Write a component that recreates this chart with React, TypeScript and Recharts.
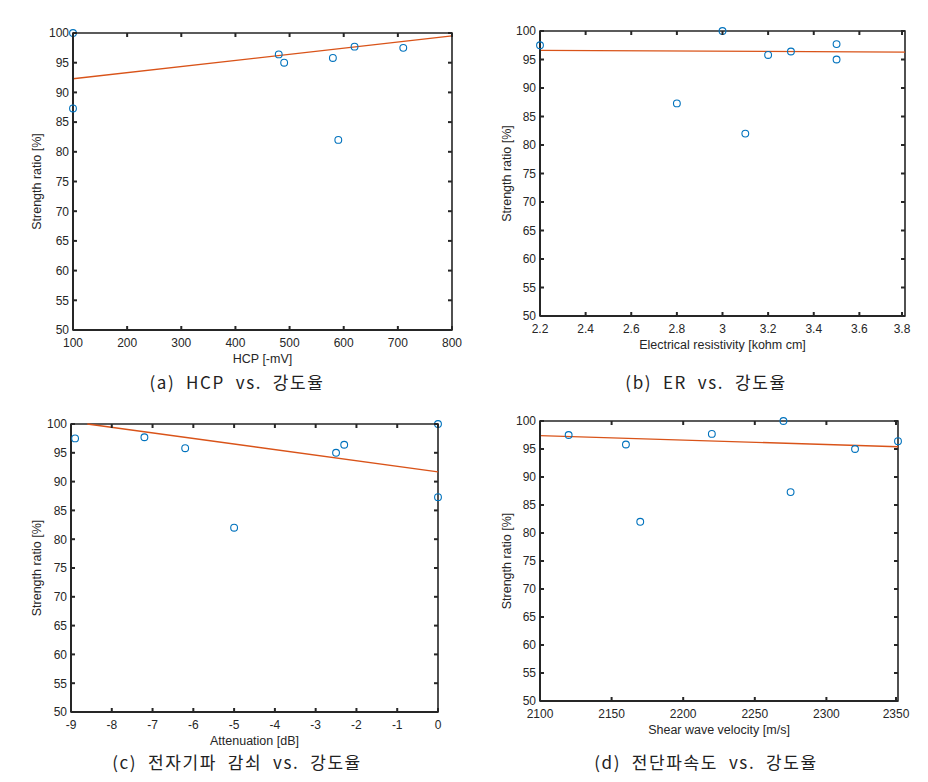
import { ComposedChart, Scatter, Line, XAxis, YAxis, ReferenceArea } from 'recharts';

const hcpPoints = [
  { x: 100, y: 100 }, { x: 100, y: 87.3 }, { x: 480, y: 96.4 }, { x: 490, y: 95 },
  { x: 580, y: 95.8 }, { x: 590, y: 82 }, { x: 620, y: 97.7 }, { x: 710, y: 97.5 },
];
const hcpTrend = [{ x: 100, y: 92.3 }, { x: 800, y: 99.5 }];
const hcpTicks = [100, 200, 300, 400, 500, 600, 700, 800];

const erPoints = [
  { x: 2.2, y: 97.5 }, { x: 2.8, y: 87.3 }, { x: 3.0, y: 100 }, { x: 3.1, y: 82 },
  { x: 3.2, y: 95.8 }, { x: 3.3, y: 96.4 }, { x: 3.5, y: 97.7 }, { x: 3.5, y: 95 },
];
const erTrend = [{ x: 2.2, y: 96.6 }, { x: 3.8, y: 96.3 }];
const erTicks = [2.2, 2.4, 2.6, 2.8, 3, 3.2, 3.4, 3.6, 3.8];

const attPoints = [
  { x: -8.9, y: 97.5 }, { x: -7.2, y: 97.7 }, { x: -6.2, y: 95.8 }, { x: -5, y: 82 },
  { x: -2.5, y: 95 }, { x: -2.3, y: 96.4 }, { x: 0, y: 100 }, { x: 0, y: 87.3 },
];
const attTrend = [{ x: -8.6, y: 100 }, { x: 0, y: 91.7 }];
const attTicks = [-9, -8, -7, -6, -5, -4, -3, -2, -1, 0];

const vsPoints = [
  { x: 2120, y: 97.5 }, { x: 2160, y: 95.8 }, { x: 2170, y: 82 }, { x: 2220, y: 97.7 },
  { x: 2270, y: 100 }, { x: 2275, y: 87.3 }, { x: 2320, y: 95 }, { x: 2350, y: 96.4 },
];
const vsTrend = [{ x: 2100, y: 97.4 }, { x: 2350, y: 95.4 }];
const vsTicks = [2100, 2150, 2200, 2250, 2300, 2350];

const strengthTicks = [50, 55, 60, 65, 70, 75, 80, 85, 90, 95, 100];

const INK = '#262626';
const BLUE = '#0072BD';
const ORANGE = '#D95319';
const Y_AXIS_W = 66;
const X_AXIS_H = 45;
const TOP = 10;
const TICK = 4;

// bottom axis tick: inward mark at the bottom, matching mark on the top edge, label below
function makeBottomTick(plotH: number) {
  return function BottomTick({ x, y, payload }: any) {
    return (
      <g>
        <line x1={x} y1={y} x2={x} y2={y - TICK} stroke={INK} strokeWidth={2} />
        <line x1={x} y1={y - plotH} x2={x} y2={y - plotH + TICK} stroke={INK} strokeWidth={2} />
        <text x={x} y={y + 16.5} textAnchor="middle" fontSize={12} fill={INK}>
          {String(payload.value)}
        </text>
      </g>
    );
  };
}

// left axis tick: inward mark on the left, matching mark on the right edge, label left
function makeLeftTick(plotW: number) {
  return function LeftTick({ x, y, payload }: any) {
    return (
      <g>
        <line x1={x} y1={y} x2={x + TICK} y2={y} stroke={INK} strokeWidth={2} />
        <line x1={x + plotW} y1={y} x2={x + plotW - TICK} y2={y} stroke={INK} strokeWidth={2} />
        <text x={x - 4} y={y + 4.3} textAnchor="end" fontSize={12} fill={INK}>
          {String(payload.value)}
        </text>
      </g>
    );
  };
}

function Ring(props: any) {
  return <circle cx={props.cx} cy={props.cy} r={3.4} fill="none" stroke={BLUE} strokeWidth={1.1} />;
}

interface PanelProps {
  points: { x: number; y: number }[];
  trend: { x: number; y: number }[];
  xTicks: number[];
  xLabel: string;
  plot: { x: number; y: number; w: number; h: number };
  right: number;
  yLabelDx: number;
}

function Panel({ points, trend, xTicks, xLabel, plot, right, yLabelDx }: PanelProps) {
  const domain: [number, number] = [xTicks[0], xTicks[xTicks.length - 1]];
  const width = Y_AXIS_W + plot.w + right;
  const height = TOP + plot.h + X_AXIS_H;
  const BottomTick = makeBottomTick(plot.h);
  const LeftTick = makeLeftTick(plot.w);
  return (
    <div style={{ position: 'absolute', left: plot.x - Y_AXIS_W, top: plot.y - TOP }}>
      <ComposedChart width={width} height={height} margin={{ top: TOP, right, bottom: 0, left: 0 }}>
        <XAxis
          dataKey="x"
          type="number"
          domain={domain}
          ticks={xTicks}
          height={X_AXIS_H}
          tickSize={0}
          tickMargin={0}
          tickLine={false}
          tick={<BottomTick />}
          axisLine={{ stroke: INK, strokeWidth: 2 }}
          label={{ value: xLabel, position: 'insideTop', offset: 24, fontSize: 12.5, fill: INK }}
        />
        <YAxis
          dataKey="y"
          type="number"
          domain={[50, 100]}
          ticks={strengthTicks}
          width={Y_AXIS_W}
          tickSize={0}
          tickMargin={0}
          tickLine={false}
          tick={<LeftTick />}
          axisLine={{ stroke: INK, strokeWidth: 2 }}
          label={{
            value: 'Strength ratio [%]',
            angle: -90,
            position: 'center',
            dx: yLabelDx,
            fontSize: 12.5,
            fill: INK,
          }}
        />
        <ReferenceArea
          x1={domain[0]}
          x2={domain[1]}
          y1={50}
          y2={100}
          fill="none"
          fillOpacity={0}
          stroke={INK}
          strokeWidth={1.6}
          strokeOpacity={1}
        />
        <Line
          data={trend}
          dataKey="y"
          type="linear"
          stroke={ORANGE}
          strokeWidth={1.3}
          dot={false}
          isAnimationActive={false}
        />
        <Scatter data={points} dataKey="y" shape={<Ring />} isAnimationActive={false} />
      </ComposedChart>
    </div>
  );
}

const captionStyle: React.CSSProperties = {
  position: 'absolute',
  transform: 'translateX(-50%)',
  whiteSpace: 'pre',
  fontFamily: '"Noto Sans CJK KR", sans-serif',
  fontSize: 17,
  letterSpacing: 1.6,
  color: '#222',
  lineHeight: '20px',
};

export default function App() {
  return (
    <div
      style={{
        position: 'absolute',
        left: 0,
        top: 0,
        width: 928,
        height: 782,
        background: '#fff',
        overflow: 'hidden',
        fontFamily: '"Liberation Sans", Arial, sans-serif',
      }}
    >
      <Panel
        points={hcpPoints}
        trend={hcpTrend}
        xTicks={hcpTicks}
        xLabel="HCP [-mV]"
        plot={{ x: 73, y: 33, w: 379, h: 297 }}
        right={14}
        yLabelDx={-3}
      />
      <Panel
        points={erPoints}
        trend={erTrend}
        xTicks={erTicks}
        xLabel="Electrical resistivity [kohm cm]"
        plot={{ x: 540, y: 31, w: 365, h: 285 }}
        right={7}
        yLabelDx={0}
      />
      <Panel
        points={attPoints}
        trend={attTrend}
        xTicks={attTicks}
        xLabel="Attenuation [dB]"
        plot={{ x: 71, y: 424, w: 367, h: 288 }}
        right={14}
        yLabelDx={-1}
      />
      <Panel
        points={vsPoints}
        trend={vsTrend}
        xTicks={vsTicks}
        xLabel="Shear wave velocity [m/s]"
        plot={{ x: 540, y: 421, w: 358, h: 280 }}
        right={14}
        yLabelDx={0}
      />
      <div style={{ ...captionStyle, left: 237, top: 372 }}>{'(a)  HCP  vs.  강도율'}</div>
      <div style={{ ...captionStyle, left: 706, top: 372 }}>{'(b)  ER  vs.  강도율'}</div>
      <div style={{ ...captionStyle, left: 237, top: 752 }}>{'(c)  전자기파  감쇠  vs.  강도율'}</div>
      <div style={{ ...captionStyle, left: 706, top: 752 }}>{'(d)  전단파속도  vs.  강도율'}</div>
    </div>
  );
}
